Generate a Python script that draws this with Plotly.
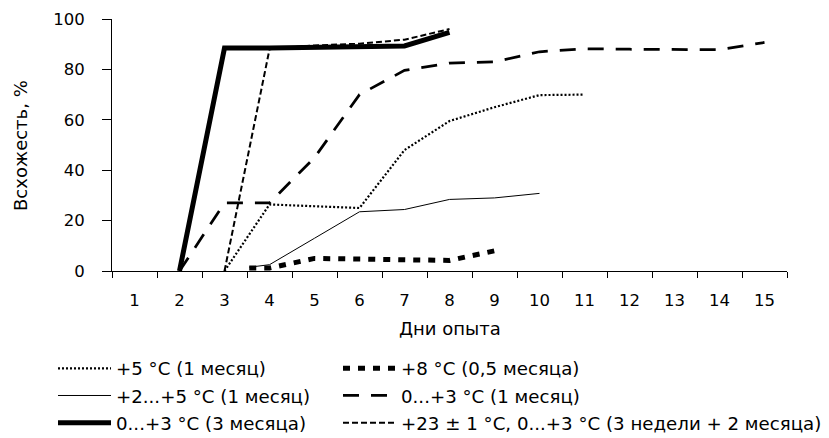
import plotly.graph_objects as go

# ---- data ----
days = list(range(1, 16))
days_labels = [str(d) for d in days]
y_ticks = [0, 20, 40, 60, 80, 100]

x_plus5 = [3, 4, 5, 6, 7, 8, 9, 10, 11]
y_plus5 = [0, 26.4, 25.7, 25, 48, 59.5, 65, 69.8, 70]

x_plus8 = [3.55, 4, 5, 6, 7, 8, 9]
y_plus8 = [1.2, 1.2, 5, 4.6, 4.4, 4.2, 8]

x_2to5 = [3.55, 4, 5, 6, 7, 8, 9, 10]
y_2to5 = [1.5, 2.5, 13, 23.5, 24.4, 28.4, 29, 30.8]

x_0to3_1m = [2, 3, 4, 5, 6, 7, 8, 9, 10, 11, 12, 13, 14, 15]
y_0to3_1m = [0, 27, 27, 45, 70, 79.6, 82.5, 83, 87, 88.2, 88, 87.8, 87.8, 90.7]

x_0to3_3m = [2, 3, 4, 5, 6, 7, 8]
y_0to3_3m = [0, 88.5, 88.5, 88.8, 89, 89.3, 94.7]

x_23 = [3, 4, 5, 6, 7, 8]
y_23 = [0, 88, 89.5, 90.2, 91.8, 96]

names = [
    "+5 °C (1 месяц)",
    "+8 °C (0,5 месяца)",
    "+2...+5 °C (1 месяц)",
    "0...+3 °C (1 месяц)",
    "0...+3 °C (3 месяца)",
    "+23 ± 1 °C, 0...+3 °C (3 недели + 2 месяца)",
]
x_title = "Дни опыта"
y_title = "Всхожесть, %"

FONT = "DejaVu Sans"
W, H = 821, 430   # page has an 8px body margin; figure sized to fit the 829x438 window

series = [
    (x_plus5, y_plus5, names[0], 2.2, "2px,2px", "legend"),
    (x_plus8, y_plus8, names[1], 5, "7px,8px", "legend2"),
    (x_2to5, y_2to5, names[2], 1, "solid", "legend"),
    (x_0to3_1m, y_0to3_1m, names[3], 2.75, "16px,12px", "legend2"),
    (x_0to3_3m, y_0to3_3m, names[4], 5, "solid", "legend"),
    (x_23, y_23, names[5], 2, "6px,3px", "legend2"),
]

fig = go.Figure()
for i, (xs, ys, nm, w, dash, lg) in enumerate(series):
    fig.add_trace(go.Scatter(
        x=xs, y=ys, name=nm, mode="lines",
        line=dict(color="black", width=w, dash=dash),
        legend=lg, legendgroup="g%d" % i,
    ))

legend_common = dict(
    orientation="v",
    font=dict(family=FONT, size=18.2, color="black"),
    bgcolor="rgba(0,0,0,0)",
    borderwidth=0,
    itemwidth=53,
    tracegroupgap=0.5,
    xref="container", yref="container",
    xanchor="left", yanchor="top",
)

boundaries = [d - 0.5 for d in days] + [days[-1] + 0.5]
xrange = [boundaries[0], boundaries[-1]]

fig.update_layout(
    width=W, height=H,
    margin=dict(l=104, r=42, t=11, b=167.3, autoexpand=False),
    paper_bgcolor="white", plot_bgcolor="white",
    font=dict(family=FONT, size=16.5, color="black"),
    showlegend=True,
    legend=dict(x=45 / W, y=1 - 342 / H, **legend_common),
    legend2=dict(x=330 / W, y=1 - 342 / H, **legend_common),
    # axis carrying the line and boundary ticks
    xaxis=dict(
        range=xrange,
        tickmode="array",
        tickvals=boundaries,
        ticktext=[""] * len(boundaries),
        ticks="outside", ticklen=6, tickcolor="black", tickwidth=1,
        showline=True, linecolor="black", linewidth=1,
        showgrid=False, zeroline=False, automargin=False,
    ),
    # overlay axis carrying the day labels at the category centres
    xaxis2=dict(
        range=xrange,
        overlaying="x",
        side="bottom",
        anchor="y",
        tickmode="array",
        tickvals=days,
        ticktext=days_labels,
        ticks="outside", ticklen=14, tickcolor="rgba(0,0,0,0)",
        showline=False, showgrid=False, zeroline=False, automargin=False,
        tickfont=dict(family=FONT, size=16.5),
    ),
    yaxis=dict(
        range=[0, 100],
        tickmode="array",
        tickvals=y_ticks,
        ticks="outside", ticklen=9, tickcolor="black", tickwidth=1,
        ticklabelstandoff=14,
        showline=True, linecolor="black", linewidth=1,
        showgrid=False, zeroline=False, automargin=False,
        tickfont=dict(family=FONT, size=16.5),
    ),
    annotations=[
        dict(text=y_title, xref="paper", yref="paper", x=-0.1363, y=0.5,
             xanchor="center", yanchor="middle", textangle=-90, showarrow=False,
             font=dict(family=FONT, size=18, color="black")),
        dict(text=x_title, xref="paper", yref="paper", x=0.5, y=-0.2277,
             xanchor="center", yanchor="middle", showarrow=False,
             font=dict(family=FONT, size=18, color="black")),
    ],
)

# an invisible trace so the overlay label axis is drawn
fig.add_trace(go.Scatter(x=[days[0]], y=[0], xaxis="x2", mode="markers",
                         marker=dict(opacity=0), showlegend=False, hoverinfo="skip"))

fig.write_html("out.html")
